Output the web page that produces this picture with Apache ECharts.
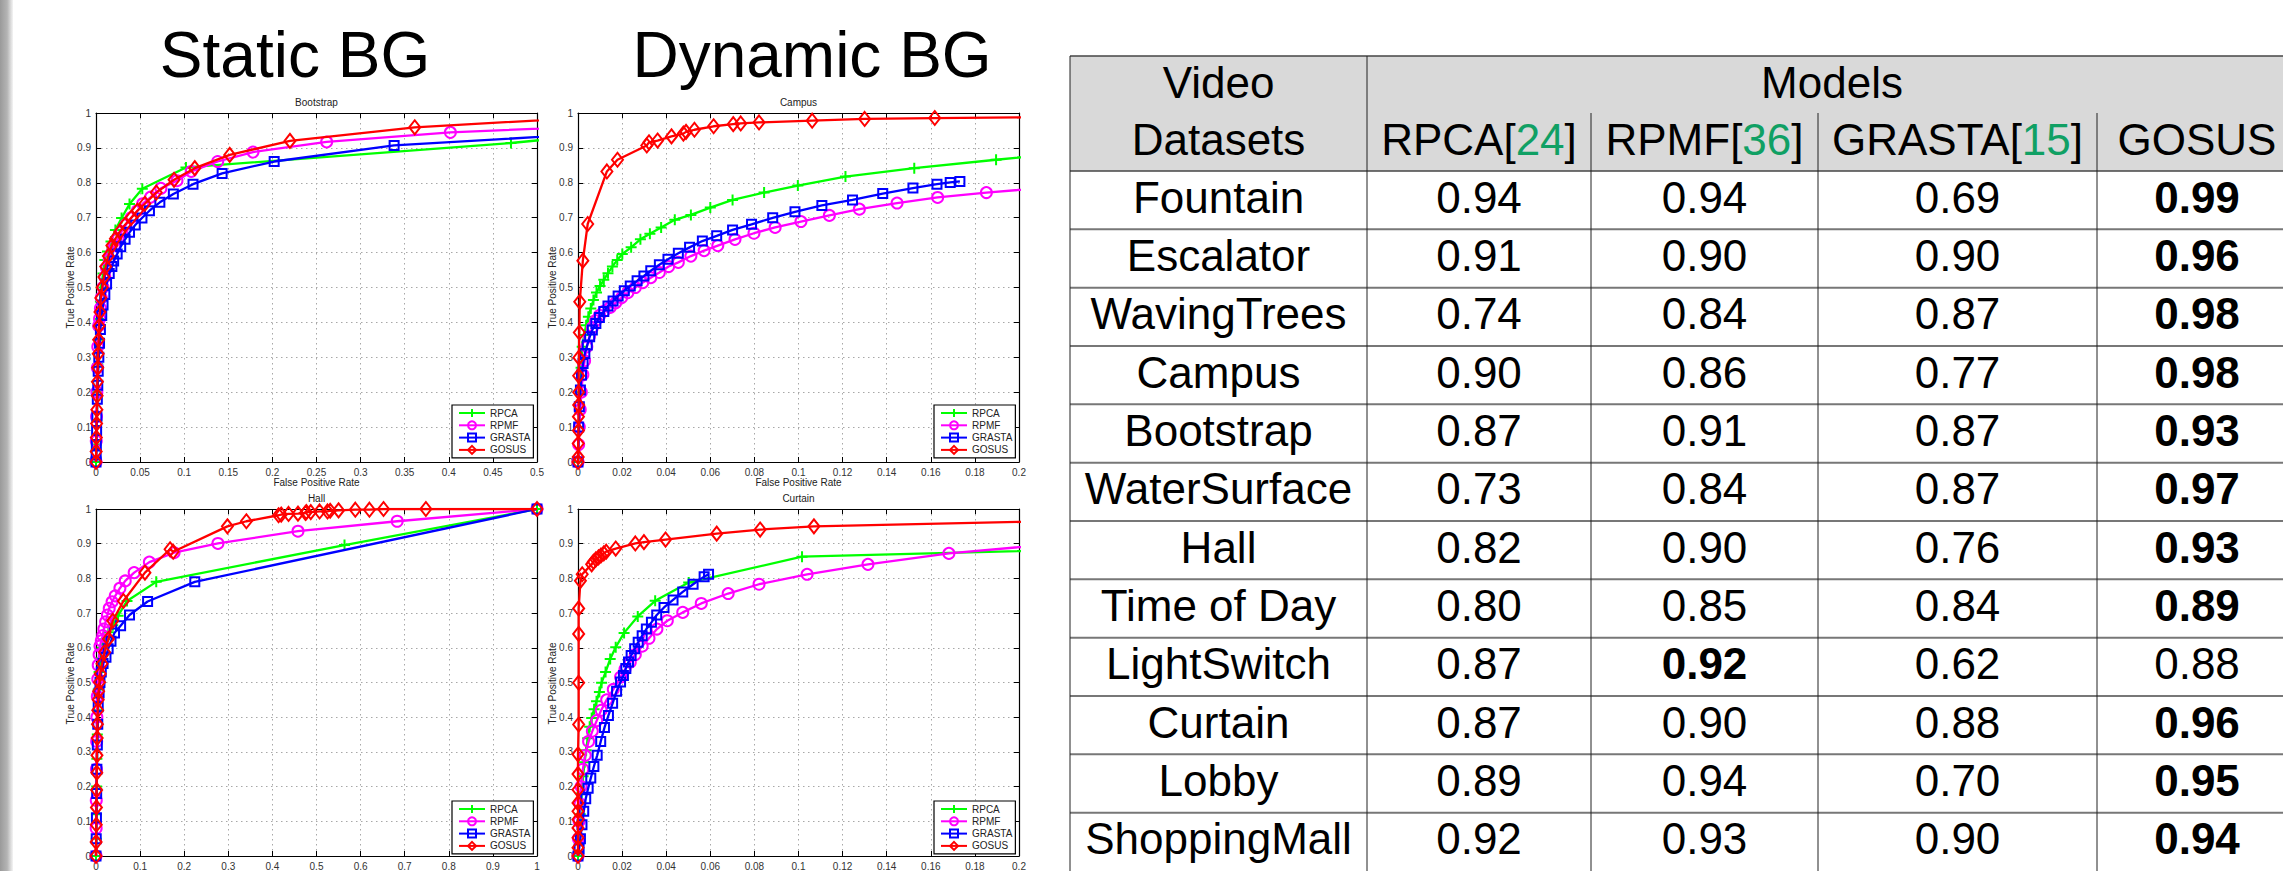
<!DOCTYPE html>
<html><head><meta charset="utf-8">
<script src="https://cdn.jsdelivr.net/npm/echarts@6/dist/echarts.min.js"></script>
<style>html,body{margin:0;padding:0;background:#fff;}#c{width:2283px;height:871px;}</style>
</head><body><div id="c"></div>
<script>
// ---------------- DATA ----------------
const seriesNames = ['RPCA', 'RPMF', 'GRASTA', 'GOSUS'];
const plotTitles = ['Bootstrap', 'Campus', 'Hall', 'Curtain'];
const panelTitles = ['Static BG', 'Dynamic BG'];
const xMaxes = [0.5, 0.2, 1, 0.2];
const xSteps = [0.05, 0.02, 0.1, 0.02];

// Bootstrap [FPR, TPR]
const bootRPCA = [[0,0],[0.0005,0.05],[0.001,0.12],[0.0015,0.2],[0.002,0.28],[0.003,0.35],[0.004,0.41],[0.005,0.46],[0.006,0.5],[0.008,0.54],[0.010,0.579],[0.013,0.603],[0.017,0.632],[0.022,0.665],[0.029,0.699],[0.038,0.739],[0.0525,0.783],[0.102,0.844],[0.4705,0.914],[0.55,0.934]];
const bootRPMF = [[0,0],[0.0003,0.06],[0.0006,0.13],[0.001,0.2],[0.0015,0.27],[0.002,0.33],[0.003,0.39],[0.004,0.41],[0.005,0.44],[0.006,0.47],[0.008,0.5],[0.010,0.53],[0.012,0.555],[0.015,0.58],[0.018,0.60],[0.021,0.62],[0.025,0.64],[0.029,0.66],[0.034,0.68],[0.040,0.70],[0.047,0.72],[0.053,0.74],[0.062,0.759],[0.0736,0.784],[0.0918,0.806],[0.108,0.8325],[0.138,0.861],[0.178,0.888],[0.2615,0.917],[0.4018,0.9445],[0.6,0.9657]];
const bootGRASTA = [[0,0],[0.0002,0.02],[0.0004,0.05],[0.0007,0.09],[0.001,0.13],[0.0015,0.18],[0.002,0.22],[0.0025,0.26],[0.0032,0.3],[0.004,0.34],[0.005,0.38],[0.0065,0.42],[0.008,0.45],[0.010,0.48],[0.012,0.51],[0.015,0.54],[0.018,0.56],[0.020,0.576],[0.024,0.596],[0.028,0.617],[0.033,0.638],[0.038,0.658],[0.0445,0.679],[0.0521,0.699],[0.0606,0.72],[0.0724,0.744],[0.0877,0.768],[0.110,0.796],[0.143,0.827],[0.202,0.861],[0.338,0.907],[0.6,0.946]];
const bootGOSUS = [[0,0],[0.0002,0.03],[0.0004,0.07],[0.0007,0.11],[0.001,0.15],[0.0013,0.19],[0.0016,0.23],[0.002,0.27],[0.0025,0.31],[0.003,0.35],[0.0035,0.39],[0.0045,0.43],[0.0055,0.47],[0.007,0.5],[0.009,0.53],[0.011,0.56],[0.014,0.59],[0.018,0.62],[0.022,0.64],[0.027,0.66],[0.033,0.68],[0.040,0.70],[0.047,0.72],[0.0554,0.740],[0.0683,0.772],[0.0885,0.8086],[0.112,0.842],[0.1516,0.880],[0.2199,0.92],[0.3614,0.959],[0.6,0.993]];

// Campus
const campusRPCA = [[0,0],[0.0005,0.1],[0.001,0.2],[0.0014,0.27],[0.0019,0.33],[0.0028,0.364],[0.0037,0.392],[0.0047,0.416],[0.0058,0.44],[0.007,0.464],[0.0084,0.486],[0.010,0.504],[0.0117,0.522],[0.0136,0.541],[0.0156,0.56],[0.0178,0.579],[0.0201,0.596],[0.0241,0.615],[0.0283,0.638],[0.0326,0.654],[0.0377,0.672],[0.0439,0.694],[0.0512,0.708],[0.060,0.729],[0.0701,0.751],[0.0844,0.772],[0.0997,0.792],[0.1213,0.818],[0.1525,0.842],[0.1896,0.866],[0.23,0.892]];
const campusRPMF = [[0,0],[0.0003,0.05],[0.0006,0.1],[0.001,0.15],[0.0015,0.2],[0.0022,0.25],[0.003,0.29],[0.004,0.33],[0.0052,0.36],[0.0065,0.385],[0.008,0.405],[0.0098,0.42],[0.0118,0.432],[0.0146,0.443],[0.0171,0.456],[0.0198,0.471],[0.0226,0.485],[0.026,0.5],[0.0294,0.514],[0.033,0.528],[0.0369,0.543],[0.0411,0.56],[0.0455,0.572],[0.0512,0.59],[0.0572,0.6057],[0.0634,0.62],[0.0712,0.638],[0.0798,0.6555],[0.0894,0.672],[0.1011,0.689],[0.114,0.7065],[0.1276,0.7245],[0.1447,0.742],[0.1631,0.758],[0.1852,0.772],[0.22,0.79]];
const campusGRASTA = [[0,0],[0.0003,0.1],[0.0006,0.158],[0.0011,0.206],[0.0016,0.249],[0.0023,0.282],[0.0031,0.311],[0.0042,0.335],[0.0053,0.359],[0.0065,0.378],[0.0081,0.397],[0.0097,0.414],[0.0117,0.431],[0.0136,0.447],[0.0159,0.461],[0.0182,0.476],[0.021,0.491],[0.0237,0.504],[0.0268,0.519],[0.0299,0.533],[0.033,0.548],[0.0369,0.565],[0.0408,0.581],[0.0455,0.598],[0.0506,0.615],[0.0564,0.633],[0.0629,0.648],[0.0701,0.665],[0.0787,0.681],[0.0883,0.6995],[0.0984,0.717],[0.1106,0.735],[0.1245,0.751],[0.1382,0.769],[0.1519,0.785],[0.1628,0.796],[0.1688,0.801],[0.1732,0.804]];
const campusGOSUS = [[0,0],[0.0001,0.014],[0.0001,0.053],[0.0002,0.09],[0.0002,0.13],[0.0003,0.163],[0.0003,0.2],[0.0003,0.247],[0.0004,0.299],[0.0006,0.371],[0.0008,0.459],[0.0022,0.577],[0.0044,0.682],[0.0131,0.8325],[0.0179,0.866],[0.0312,0.907],[0.0322,0.916],[0.0361,0.921],[0.0424,0.933],[0.0478,0.941],[0.049,0.946],[0.0528,0.952],[0.0615,0.962],[0.0704,0.968],[0.0738,0.970],[0.0821,0.973],[0.1062,0.978],[0.130,0.983],[0.1618,0.9856],[0.25,0.9893]];

// Hall
const hallRPCA = [[0,0],[0.0005,0.05],[0.001,0.12],[0.0015,0.2],[0.002,0.28],[0.003,0.35],[0.004,0.42],[0.005,0.48],[0.007,0.53],[0.010,0.57],[0.014,0.6],[0.020,0.625],[0.028,0.645],[0.038,0.665],[0.0501,0.6925],[0.0703,0.735],[0.1366,0.79],[0.5635,0.896],[1,1]];
const hallRPMF = [[0,0],[0.0003,0.08],[0.0006,0.16],[0.001,0.25],[0.0015,0.33],[0.002,0.4],[0.003,0.46],[0.004,0.51],[0.005,0.55],[0.007,0.58],[0.009,0.605],[0.012,0.62],[0.0154,0.635],[0.0178,0.654],[0.0218,0.675],[0.0259,0.6944],[0.030,0.7135],[0.0364,0.7326],[0.0437,0.7498],[0.0542,0.7717],[0.0663,0.7927],[0.0865,0.8166],[0.121,0.847],[0.177,0.874],[0.2765,0.9007],[0.458,0.936],[0.683,0.9647],[1,1]];
const hallGRASTA = [[0,0],[0.0005,0.05],[0.001,0.11],[0.0015,0.18],[0.002,0.25],[0.003,0.32],[0.004,0.38],[0.005,0.43],[0.007,0.47],[0.009,0.5],[0.012,0.53],[0.016,0.555],[0.0226,0.573],[0.0275,0.597],[0.034,0.619],[0.042,0.643],[0.0558,0.6638],[0.076,0.6944],[0.117,0.7335],[0.224,0.79],[1,1]];
const hallGOSUS = [[0,0],[0.0003,0.04],[0.0006,0.09],[0.001,0.14],[0.0014,0.19],[0.0018,0.24],[0.0022,0.29],[0.0027,0.34],[0.0033,0.38],[0.004,0.42],[0.005,0.45],[0.006,0.475],[0.008,0.501],[0.0097,0.525],[0.0137,0.554],[0.0194,0.587],[0.0283,0.6256],[0.038,0.678],[0.0622,0.735],[0.111,0.8166],[0.168,0.884],[0.175,0.877],[0.298,0.950],[0.341,0.9647],[0.414,0.982],[0.42,0.984],[0.4366,0.9857],[0.458,0.9866],[0.475,0.9885],[0.477,0.991],[0.487,0.991],[0.507,0.993],[0.525,0.993],[0.531,0.995],[0.55,0.996],[0.588,0.998],[0.62,0.998],[0.652,1.0],[0.748,1.0],[1,1]];

// Curtain
const curtainRPCA = [[0,0],[0.0005,0.06],[0.001,0.12],[0.0016,0.18],[0.0023,0.23],[0.003,0.27],[0.0037,0.305],[0.0044,0.339],[0.0053,0.3725],[0.0062,0.398],[0.0073,0.423],[0.0084,0.446],[0.0097,0.4728],[0.0107,0.4995],[0.0125,0.530],[0.0146,0.568],[0.0171,0.6017],[0.0209,0.643],[0.0271,0.6905],[0.035,0.7355],[0.0502,0.788],[0.1016,0.8625],[0.25,0.8869]];
const curtainRPMF = [[0,0],[0.0002,0.05],[0.0005,0.1],[0.0009,0.15],[0.0014,0.2],[0.0022,0.25],[0.0033,0.29],[0.0048,0.33],[0.0065,0.36],[0.0085,0.39],[0.0105,0.42],[0.013,0.45],[0.016,0.48],[0.0193,0.5158],[0.0213,0.5377],[0.0237,0.5587],[0.026,0.5807],[0.0291,0.6046],[0.0322,0.6275],[0.0358,0.654],[0.0405,0.678],[0.0475,0.702],[0.0559,0.7278],[0.0681,0.7564],[0.0821,0.7832],[0.1039,0.8118],[0.1315,0.8405],[0.1682,0.872],[0.25,0.9183]];
const curtainGRASTA = [[0,0],[0.0005,0.02],[0.0011,0.05],[0.0018,0.09],[0.0026,0.129],[0.0035,0.165],[0.0046,0.195],[0.0058,0.2245],[0.0072,0.258],[0.0087,0.29],[0.0103,0.33],[0.012,0.37],[0.0138,0.405],[0.0157,0.44],[0.0175,0.475],[0.0193,0.5014],[0.0206,0.5205],[0.0217,0.54],[0.0229,0.559],[0.0241,0.578],[0.0257,0.597],[0.0273,0.616],[0.0291,0.635],[0.031,0.654],[0.0333,0.6733],[0.0357,0.6944],[0.039,0.7163],[0.0431,0.738],[0.0475,0.761],[0.0522,0.783],[0.0572,0.805],[0.0592,0.8118]];
const curtainGOSUS = [[0,0],[0,0.024],[0,0.0525],[0,0.081],[0,0.105],[0,0.129],[0,0.153],[0,0.191],[0,0.236],[0,0.293],[0.0003,0.379],[0.0003,0.4995],[0.0003,0.64],[0.0003,0.7135],[0.0011,0.793],[0.0019,0.812],[0.0062,0.8405],[0.007,0.848],[0.0081,0.855],[0.0093,0.8605],[0.0104,0.866],[0.0117,0.872],[0.0128,0.877],[0.0171,0.886],[0.026,0.9007],[0.0299,0.9045],[0.0397,0.912],[0.0629,0.929],[0.0826,0.9408],[0.107,0.950],[0.25,0.9695]];

// Table
const tableDatasets = ['Fountain','Escalator','WavingTrees','Campus','Bootstrap','WaterSurface','Hall','Time of Day','LightSwitch','Curtain','Lobby','ShoppingMall'];
const tableModels = ['RPCA','RPMF','GRASTA','GOSUS'];
const tableRefs = ['24','36','15',''];
const tableRPCA = [0.94,0.91,0.74,0.90,0.87,0.73,0.82,0.80,0.87,0.87,0.89,0.92];
const tableRPMF = [0.94,0.90,0.84,0.86,0.91,0.84,0.90,0.85,0.92,0.90,0.94,0.93];
const tableGRASTA = [0.69,0.90,0.87,0.77,0.87,0.87,0.76,0.84,0.62,0.88,0.70,0.90];
const tableGOSUS = [0.99,0.96,0.98,0.98,0.93,0.97,0.93,0.89,0.88,0.96,0.95,0.94];

// ---------------- LAYOUT / STYLE ----------------
const FONT = 'Liberation Sans, Arial, Helvetica, sans-serif';
const plotData = [
  [bootRPCA, bootRPMF, bootGRASTA, bootGOSUS],
  [campusRPCA, campusRPMF, campusGRASTA, campusGOSUS],
  [hallRPCA, hallRPMF, hallGRASTA, hallGOSUS],
  [curtainRPCA, curtainRPMF, curtainGRASTA, curtainGOSUS]
];
const GW = 441, GH = 349;
const gridPos = [[96,113],[578,113],[96,509],[578,509]];
const sty = [
  {color:'#00ff00', symbol:'path://M5,0L5,10M0,5L10,5', size:11},
  {color:'#ff00ff', symbol:'circle', size:11},
  {color:'#0000ff', symbol:'rect', size:9},
  {color:'#ff0000', symbol:'diamond', size:[11,14]}
];

const grid = [], xAxis = [], yAxis = [], series = [], legend = [], graphic = [];
gridPos.forEach((p, i) => {
  grid.push({left:p[0], top:p[1], width:GW, height:GH, containLabel:false});
  ['bottom','top'].forEach(pos => xAxis.push({
    type:'value', gridIndex:i, position:pos, min:0, max:xMaxes[i], interval:xSteps[i],
    axisLine:{show:true, onZero:false, lineStyle:{color:'#000', width:1.2}},
    axisTick:{show:true, inside:true, length:5, lineStyle:{color:'#000', width:1}},
    axisLabel:{show:pos==='bottom', fontSize:10, color:'#333', fontFamily:FONT, margin:5, showMinLabel:true, showMaxLabel:true},
    splitLine:{show:pos==='bottom', lineStyle:{color:'#a8a8a8', width:1, type:[1.5,3.5]}}
  }));
  ['left','right'].forEach(pos => yAxis.push({
    type:'value', gridIndex:i, position:pos, min:0, max:1, interval:0.1,
    axisLine:{show:true, onZero:false, lineStyle:{color:'#000', width:1.2}},
    axisTick:{show:true, inside:true, length:5, lineStyle:{color:'#000', width:1}},
    axisLabel:{show:pos==='left', fontSize:10, color:'#333', fontFamily:FONT, margin:5, showMinLabel:true, showMaxLabel:true},
    splitLine:{show:pos==='left', lineStyle:{color:'#a8a8a8', width:1, type:[1.5,3.5]}}
  }));
  plotData[i].forEach((d, k) => series.push({
    type:'line', name:seriesNames[k], xAxisIndex:2*i, yAxisIndex:2*i, data:d,
    symbol:sty[k].symbol, symbolSize:sty[k].size, showAllSymbol:true, clip:true,
    lineStyle:{color:sty[k].color, width:2.3},
    itemStyle:{color:'rgba(0,0,0,0)', borderColor:sty[k].color, borderWidth:2},
    emphasis:{disabled:true}, silent:true, z:2+k*0.1
  }));
  legend.push({
    left:p[0]+356, top:p[1]+292, orient:'vertical', data:seriesNames,
    itemWidth:26, itemHeight:10, itemGap:2.3, padding:[3,3,3,6],
    backgroundColor:'#fff', borderColor:'#000', borderWidth:1.2, borderRadius:0,
    textStyle:{fontSize:10, color:'#222', fontFamily:FONT}, selectedMode:false
  });
  // subplot title & axis names
  graphic.push({type:'text', silent:true, x:p[0]+GW/2, y:p[1]-11, style:{text:plotTitles[i], fontSize:10, fontFamily:FONT, fill:'#222', align:'center', verticalAlign:'middle'}});
  if (i < 2) graphic.push({type:'text', silent:true, x:p[0]+GW/2, y:p[1]+GH+20, style:{text:'False Positive Rate', fontSize:10, fontFamily:FONT, fill:'#222', align:'center', verticalAlign:'middle'}});
  graphic.push({type:'text', silent:true, x:p[0]-26, y:p[1]+GH/2, rotation:Math.PI/2, style:{text:'True Positive Rate', fontSize:10, fontFamily:FONT, fill:'#222', align:'center', verticalAlign:'middle'}});
});

// Panel titles
graphic.push({type:'text', silent:true, x:295, y:55, style:{text:panelTitles[0], fontSize:64, fontFamily:FONT, fill:'#000', align:'center', verticalAlign:'middle'}});
graphic.push({type:'text', silent:true, x:812, y:55, style:{text:panelTitles[1], fontSize:64, fontFamily:FONT, fill:'#000', align:'center', verticalAlign:'middle'}});

// Left grey page edge
graphic.push({type:'rect', silent:true, shape:{x:0, y:0, width:13, height:871},
  style:{fill:new echarts.graphic.LinearGradient(0,0,1,0,[{offset:0,color:'#9a9a9a'},{offset:0.55,color:'#b4b4b4'},{offset:1,color:'#f4f4f4'}])}});

// ---------------- TABLE ----------------
const colX = [1070, 1367, 1591, 1818, 2097, 2297];
const tTop = 56, hMid = 113, hBot = 171, rowH = 58.33, tFont = 44;
graphic.push({type:'rect', silent:true, shape:{x:colX[0], y:tTop, width:colX[5]-colX[0], height:hBot-tTop}, style:{fill:'#d9d9d9'}});
const tableCols = [tableRPCA, tableRPMF, tableGRASTA, tableGOSUS];
function tText(x, y, text, bold, rich) {
  const s = {text:text, fontSize:tFont, fontFamily:FONT, fill:'#000', align:'center', verticalAlign:'middle', fontWeight: bold ? 'bold' : 'normal'};
  if (rich) s.rich = rich;
  graphic.push({type:'text', silent:true, x:x, y:y, style:s});
}
const cc = k => (colX[k] + colX[k+1]) / 2;
tText(cc(0), (tTop+hMid)/2 - 2, 'Video');
tText(cc(0), (hMid+hBot)/2 - 3, 'Datasets');
tText((colX[1]+colX[5])/2, (tTop+hMid)/2 - 2, 'Models');
tableModels.forEach((m, k) => {
  const txt = tableRefs[k] ? m + '[{g|' + tableRefs[k] + '}]' : m;
  tText(cc(k+1), (hMid+hBot)/2 - 3, txt, false, {g:{fill:'#10a064', fontSize:tFont, fontFamily:FONT}});
});
tableDatasets.forEach((name, r) => {
  const yc = hBot + (r+0.5)*rowH - 3;
  tText(cc(0), yc, name);
  const vals = tableCols.map(c => c[r]);
  const best = Math.max.apply(null, vals);
  vals.forEach((v, k) => tText(cc(k+1), yc, v.toFixed(2), v === best));
});
// table lines
function tLine(x1, y1, x2, y2, color, w) {
  graphic.push({type:'line', silent:true, shape:{x1:x1, y1:y1, x2:x2, y2:y2}, style:{stroke:color, lineWidth:w}});
}
tLine(colX[0], tTop, colX[5], tTop, '#444', 1.5);
tLine(colX[0], hBot, colX[5], hBot, '#444', 1.5);
for (let r = 1; r < tableDatasets.length; r++) {
  const y = hBot + r*rowH;
  tLine(colX[0], y, colX[5], y, '#777', 2);
}
tLine(colX[0], tTop, colX[0], 871, '#222', 1);
tLine(colX[1], tTop, colX[1], 871, '#222', 1);
for (let k = 2; k < 5; k++) tLine(colX[k], hMid, colX[k], 871, '#222', 1);

const chart = echarts.init(document.getElementById('c'), null, {renderer:'svg', width:2283, height:871});
chart.setOption({
  animation:false, backgroundColor:'#fff',
  grid, xAxis, yAxis, series, legend, graphic
});
</script></body></html>
